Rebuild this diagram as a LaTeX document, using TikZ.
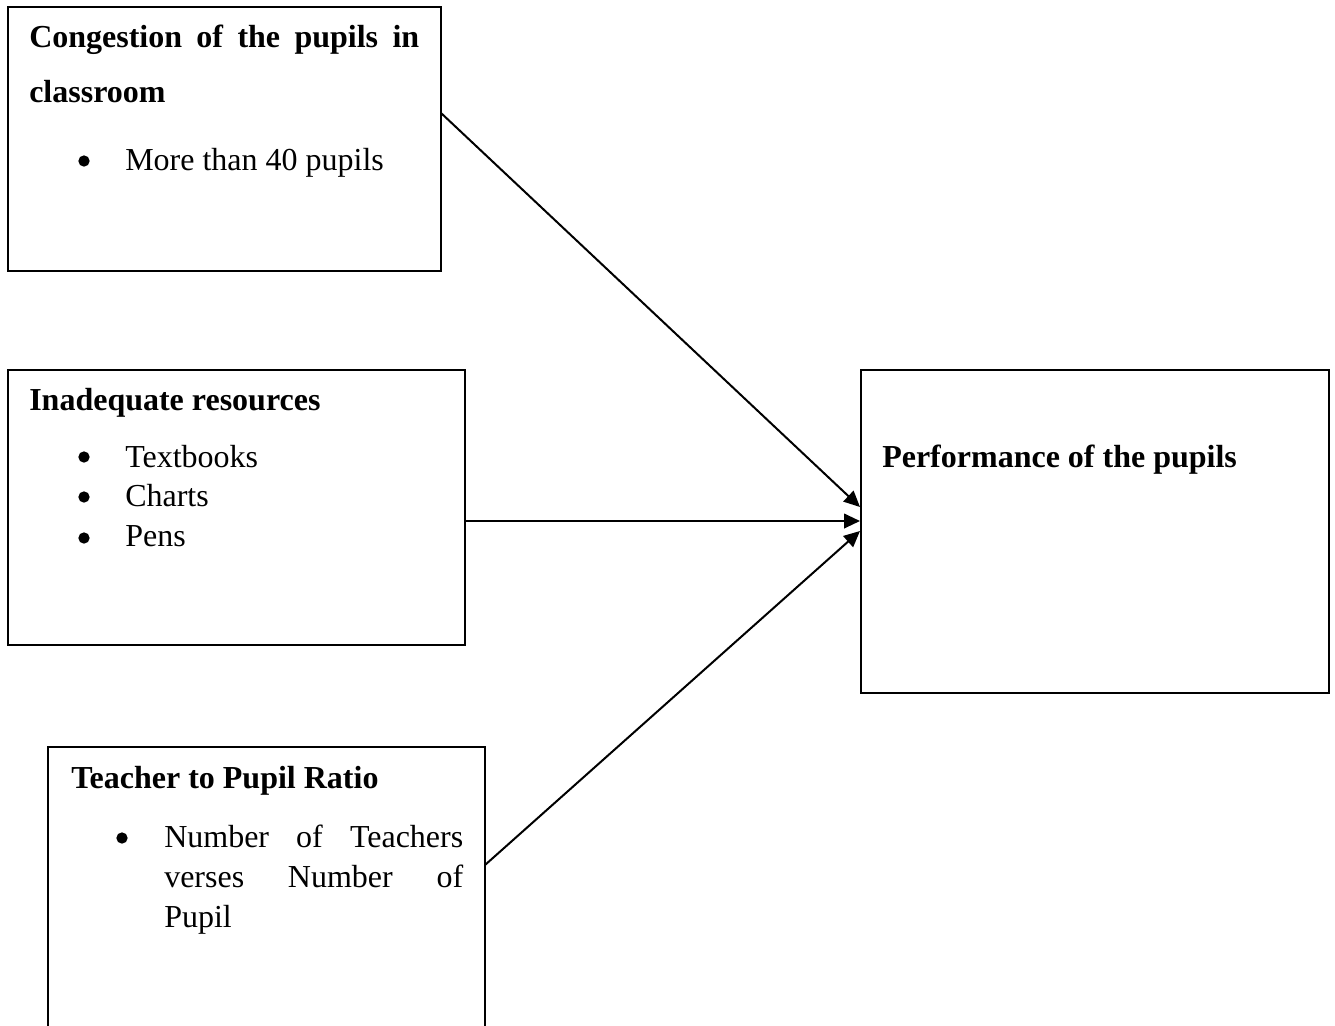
\documentclass[tikz,border=0pt]{standalone}
\usepackage{fontspec}
\setmainfont{Liberation Serif}
\usetikzlibrary{arrows.meta,fit}
\begin{document}
\begin{tikzpicture}[x=0.75pt,y=-0.75pt,
  box/.style={draw, line width=1.5pt, inner sep=0pt},
  txt/.style={anchor=base west, inner sep=0pt, font=\fontsize{24}{30}\selectfont},
  hd/.style={txt, font=\fontsize{24}{30}\selectfont\bfseries},
  bul/.style={circle, fill, inner sep=0pt, minimum size=8.5pt},
  arr/.style={line width=1.5pt, -{Triangle[length=12pt,width=11pt]}}]
\clip (0,0) rectangle (1335,1025);
\fill[white] (0,0) rectangle (1335,1025);
% boxes
\node[box, fit={(8,7)(441,271)}] (cong) {};
\node[box, fit={(8,370)(465,645)}] (res) {};
\node[box, fit={(48,747)(485,1060)}] (ratio) {};
\node[box, fit={(861,370)(1329,693)}] (perf) {};
% texts: congestion
\node[hd] (congH1) at (29,47) {\makebox[292.5pt][s]{Congestion of the pupils in}};
\node[hd] (congH2) at (29,102) {classroom};
\node[bul] (congB1) at (84,161) {};
\node[txt] (congL1) at (125,170) {More than 40 pupils};
% texts: resources
\node[hd] (resH) at (29,410) {Inadequate resources};
\node[bul] (resB1) at (84,457) {};
\node[txt] (resL1) at (125,467) {Textbooks};
\node[bul] (resB2) at (84,497) {};
\node[txt] (resL2) at (125,506) {Charts};
\node[bul] (resB3) at (84,538) {};
\node[txt] (resL3) at (125,546) {Pens};
% texts: ratio
\node[hd] (ratioH) at (71,788) {Teacher to Pupil Ratio};
\node[bul] (ratioB1) at (122,838) {};
\node[txt] (ratioL1) at (164,847) {\makebox[224.25pt][s]{Number of Teachers}};
\node[txt] (ratioL2) at (164,887) {\makebox[224.25pt][s]{verses Number of}};
\node[txt] (ratioL3) at (164,927) {Pupil};
% texts: performance
\node[hd] (perfH) at (882,467) {Performance of the pupils};
% connectors
\coordinate (s1) at (441,113);
\coordinate (s2) at (465,521);
\coordinate (s3) at (485,865);
\coordinate (t1) at (860,507);
\coordinate (t2) at (860,521);
\coordinate (t3) at (860,531);
\draw[arr] (s1) -- (t1);
\draw[arr] (s2) -- (t2);
\draw[arr] (s3) -- (t3);
\end{tikzpicture}
\end{document}
